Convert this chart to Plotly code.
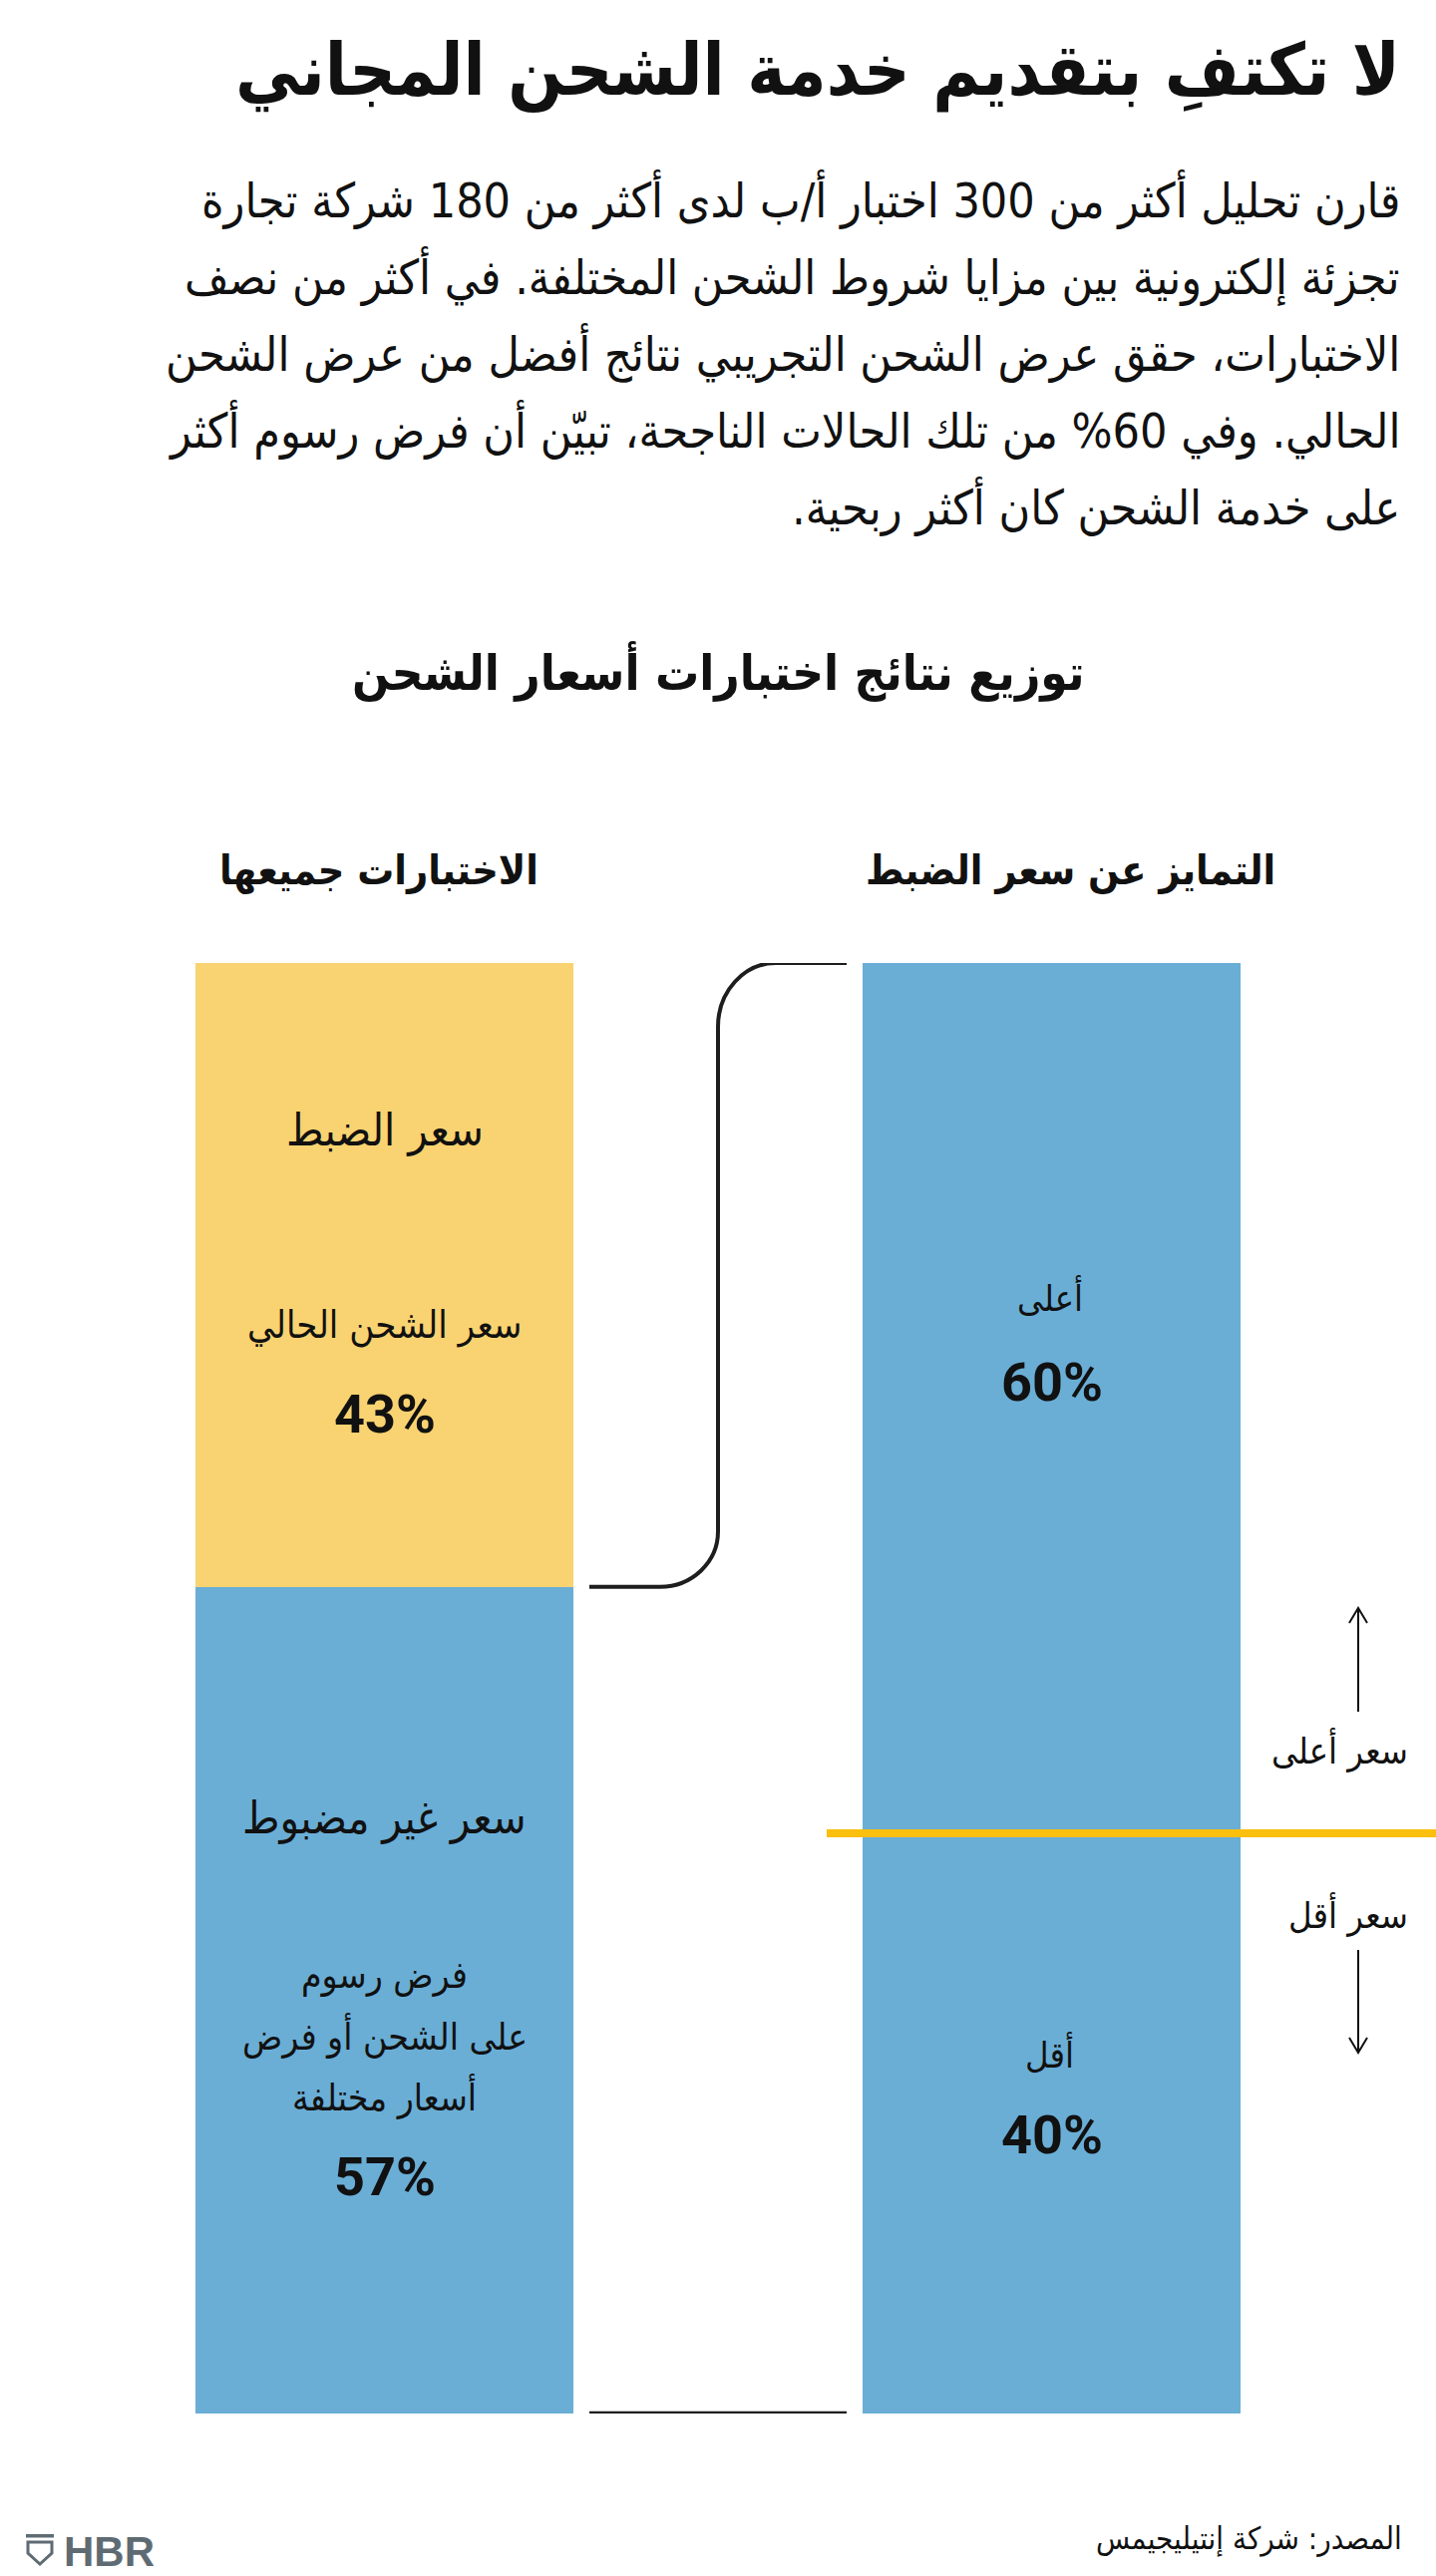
import plotly.graph_objects as go

W, H = 1440, 2584

# ---------------- data ----------------
columns = ["الاختبارات جميعها", "التمايز عن سعر الضبط"]
top_values = [43, 60]          # controlled price / higher
bottom_values = [57, 40]       # non-controlled / lower
all_labels = ["سعر الضبط", "سعر غير مضبوط"]
all_sub_top = ["سعر الشحن الحالي"]
all_sub_bottom = ["فرض رسوم", "على الشحن أو فرض", "أسعار مختلفة"]
vs_labels = ["أعلى", "أقل"]
side_labels = ["سعر أعلى", "سعر أقل"]

title = "لا تكتفِ بتقديم خدمة الشحن المجاني"
body_lines = [
    "قارن تحليل أكثر من 300 اختبار أ/ب لدى أكثر من 180 شركة تجارة",
    "تجزئة إلكترونية بين مزايا شروط الشحن المختلفة. في أكثر من نصف",
    "الاختبارات، حقق عرض الشحن التجريبي نتائج أفضل من عرض الشحن",
    "الحالي. وفي 60% من تلك الحالات الناجحة، تبيّن أن فرض رسوم أكثر",
    "على خدمة الشحن كان أكثر ربحية.",
]
chart_title = "توزيع نتائج اختبارات أسعار الشحن"
source = "المصدر: شركة إنتيليجيمس"

YELLOW = "#F9D371"
BLUE = "#6AAED6"
GOLD = "#FBBF0E"
INK = "#111111"
LINE = "#1E1E1E"
LOGO = "#5F6B73"
AR = "DejaVu Sans Condensed, DejaVu Sans, sans-serif"
NUM = "Liberation Sans Narrow, Roboto, sans-serif"
RLM = "\u200f"

# plot area in pixels
BAR_TOP, BAR_BOT = 966, 2421
SLOT = 669            # centre-to-centre distance of the two columns
BAR_W = 379
XC = 720              # midpoint between the two columns
LEFT_C, RIGHT_C = XC - SLOT / 2, XC + SLOT / 2


def px(x):
    return x / W


def py(y):
    return 1 - y / H


fig = go.Figure()
fig.add_trace(go.Bar(x=columns, y=top_values, marker=dict(color=[YELLOW, BLUE], line=dict(width=0)),
                     hoverinfo="skip", showlegend=False))
fig.add_trace(go.Bar(x=columns, y=bottom_values, marker=dict(color=[BLUE, BLUE], line=dict(width=0)),
                     hoverinfo="skip", showlegend=False))

ann = []


def T(text, x, y, size, bold=False, family=AR, xanchor="center", color=INK):
    t = RLM + text + RLM
    if bold:
        t = "<b>" + t + "</b>"
    ann.append(dict(text=t, x=px(x), y=py(y), xref="paper", yref="paper", showarrow=False,
                    xanchor=xanchor, yanchor="middle", font=dict(family=family, size=size, color=color)))


# header texts
T(title, 1406, 71, 72, bold=True, xanchor="right")
for i, line in enumerate(body_lines):
    T(line, 1406, 200 + i * 77, 48, xanchor="right")
T(chart_title, 720, 673, 49, bold=True)
T(columns[0], 380, 873, 41, bold=True)
T(columns[1], 1073, 873, 41, bold=True)

# left bar labels
T(all_labels[0], LEFT_C, 1133, 45)
T(all_sub_top[0], LEFT_C, 1329, 38)
T(f"{top_values[0]}%", LEFT_C, 1418, 54, bold=True, family=NUM)
T(all_labels[1], LEFT_C, 1823, 45)
for i, line in enumerate(all_sub_bottom):
    T(line, LEFT_C, 1981 + i * 61, 37)
T(f"{bottom_values[0]}%", LEFT_C, 2183, 54, bold=True, family=NUM)

# right bar labels
T(vs_labels[0], RIGHT_C - 2, 1301, 36)
T(f"{top_values[1]}%", RIGHT_C, 1386, 54, bold=True, family=NUM)
T(vs_labels[1], RIGHT_C - 2, 2060, 36)
T(f"{bottom_values[1]}%", RIGHT_C, 2141, 54, bold=True, family=NUM)

# side labels
T(side_labels[0], 1414, 1755, 36, xanchor="right")
T(side_labels[1], 1414, 1920, 36, xanchor="right")

# source + logo
T(source, 1408, 2546, 31, xanchor="right")
ann.append(dict(text="<b>HBR</b>", x=px(62), y=py(2559), xref="paper", yref="paper", showarrow=False,
                xanchor="left", yanchor="middle",
                font=dict(family="Liberation Sans, Arial, sans-serif", size=42, color=LOGO)))

shapes = []
# bracket connecting the control-price segment to the right column
bracket = (f"M {px(849)},0 L {px(778)},0 "
           f"C {px(746)},0 {px(720)},1.97 {px(720)},4.4 "
           f"L {px(720)},39.2 "
           f"C {px(720)},41.3 {px(694)},{top_values[0]} {px(662)},{top_values[0]} "
           f"L {px(591)},{top_values[0]}")
shapes.append(dict(type="path", path=bracket, xref="paper", yref="y", line=dict(color=LINE, width=4)))
shapes.append(dict(type="line", x0=px(591), x1=px(849), y0=100, y1=100, xref="paper", yref="y",
                   line=dict(color=LINE, width=4.5)))
# gold line marking the control price
shapes.append(dict(type="line", x0=px(829), x1=1, y0=top_values[1], y1=top_values[1], xref="paper", yref="y",
                   line=dict(color=GOLD, width=8), layer="above"))

# arrows (shaft + open chevron head)
AX = 1362
for (y_tail, y_head) in [(1717, 1613), (1956, 2059)]:
    d = 1 if y_head > y_tail else -1
    shapes.append(dict(type="line", x0=px(AX), x1=px(AX), y0=py(y_tail), y1=py(y_head),
                       xref="paper", yref="paper", line=dict(color=INK, width=2)))
    shapes.append(dict(type="path", xref="paper", yref="paper", line=dict(color=INK, width=2),
                       path=f"M {px(AX - 9)},{py(y_head - d * 15)} L {px(AX)},{py(y_head)} L {px(AX + 9)},{py(y_head - d * 15)}"))

# HBR shield
shapes.append(dict(type="rect", x0=px(26), x1=px(54), y0=py(2542), y1=py(2545.5), xref="paper", yref="paper",
                   fillcolor=LOGO, line=dict(width=0)))
shapes.append(dict(type="path", xref="paper", yref="paper", line=dict(color=LOGO, width=3),
                   path=(f"M {px(28)},{py(2550)} L {px(52)},{py(2550)} L {px(52)},{py(2561)} "
                         f"L {px(40)},{py(2572)} L {px(28)},{py(2561)} Z")))

fig.update_layout(
    width=W, height=H, margin=dict(l=0, r=0, t=0, b=0),
    paper_bgcolor="white", plot_bgcolor="white",
    barmode="stack", bargap=1 - BAR_W / SLOT,
    xaxis=dict(domain=[(XC - SLOT) / W, (XC + SLOT) / W], range=[-0.5, 1.5], visible=False, fixedrange=True),
    yaxis=dict(domain=[1 - BAR_BOT / H, 1 - BAR_TOP / H], range=[100, 0], visible=False, fixedrange=True),
    annotations=ann, shapes=shapes,
)

fig.write_html("out.html", config={"displayModeBar": False},
               post_script="document.body.style.margin='0';")
